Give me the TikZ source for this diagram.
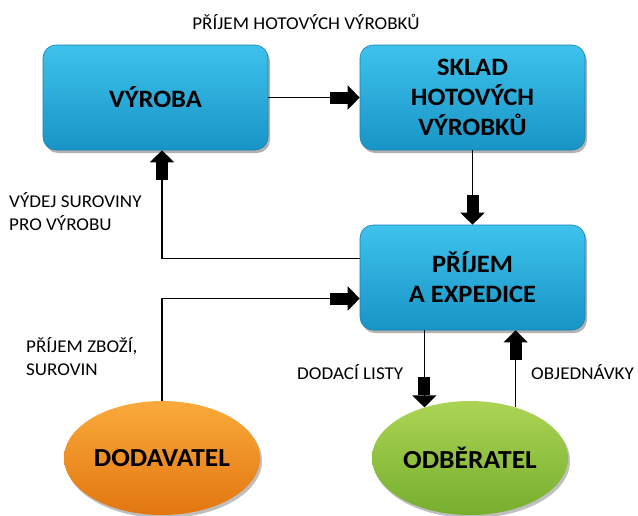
\documentclass[tikz,border=0pt]{standalone}
\usepackage{fontspec}
\setmainfont{Carlito}[FakeStretch=1.06]
\usetikzlibrary{arrows.meta,shapes.geometric,shadows,calc}
\definecolor{boxtop}{RGB}{62,194,236}
\definecolor{boxbot}{RGB}{24,148,198}
\definecolor{boxedge}{RGB}{20,130,180}
\definecolor{orgtop}{RGB}{250,170,60}
\definecolor{orgbot}{RGB}{226,118,16}
\definecolor{grntop}{RGB}{172,212,84}
\definecolor{grnbot}{RGB}{118,174,46}
\tikzset{
  procbox/.style={rectangle, rounded corners=13pt, minimum width=225pt, minimum height=105pt,
    inner sep=0pt, align=center, top color=boxtop, bottom color=boxbot, draw=boxedge, line width=0.6pt,
    font=\fontsize{25}{30}\selectfont\bfseries,
    drop shadow={shadow xshift=2pt, shadow yshift=-3pt, opacity=0.3, fill=black}},
  party/.style={ellipse, minimum width=196pt, minimum height=114pt, inner sep=0pt,
    font=\fontsize{26}{30}\selectfont\bfseries,
    drop shadow={shadow xshift=2pt, shadow yshift=-3pt, opacity=0.25, fill=black}},
  lbl/.style={font=\fontsize{18}{23}\selectfont, inner sep=0pt, align=left},
  arr/.style={line width=1.5pt, -{Rectangle[length=18pt,width=12pt]Triangle[length=12pt,width=24pt]}},
}
\begin{document}
\begin{tikzpicture}[x=1pt,y=-1pt]
\useasboundingbox (0,0) rectangle (638,515);
\node[procbox] (vyroba) at (155.5,97.5) {VÝROBA};
\node[procbox] (sklad) at (472.5,97.5) {SKLAD\\HOTOVÝCH\\VÝROBKŮ};
\node[procbox] (prijem) at (472.5,277.5) {PŘÍJEM\\A EXPEDICE};
\node[party, top color=orgtop, bottom color=orgbot] (dod) at (162,458) {DODAVATEL};
\node[party, top color=grntop, bottom color=grnbot] (odb) at (470,458) {ODBĚRATEL};

\node[lbl] (l1) at (306,22) {PŘÍJEM HOTOVÝCH VÝROBKŮ};
\node[lbl, anchor=west] (l2) at (9,212) {VÝDEJ SUROVINY\\PRO VÝROBU};
\node[lbl, anchor=west] (l3) at (26,357) {PŘÍJEM ZBOŽÍ,\\SUROVIN};
\node[lbl, anchor=west] (l4) at (297,372) {DODACÍ LISTY};
\node[lbl, anchor=west] (l5) at (531,372) {OBJEDNÁVKY};

\draw[arr] (vyroba) -- (sklad);
\draw[arr] (sklad) -- (prijem);
\draw[arr] ($(prijem.west)+(0,-19)$) -| (dod.north |- vyroba.south);
\draw[arr] (dod.north) |- ($(prijem.west)+(0,21)$);
\draw[arr] (prijem.south -| odb.132) -- (odb.132);
\draw[arr] (odb.48) -- (odb.48 |- prijem.south);
\end{tikzpicture}
\end{document}
